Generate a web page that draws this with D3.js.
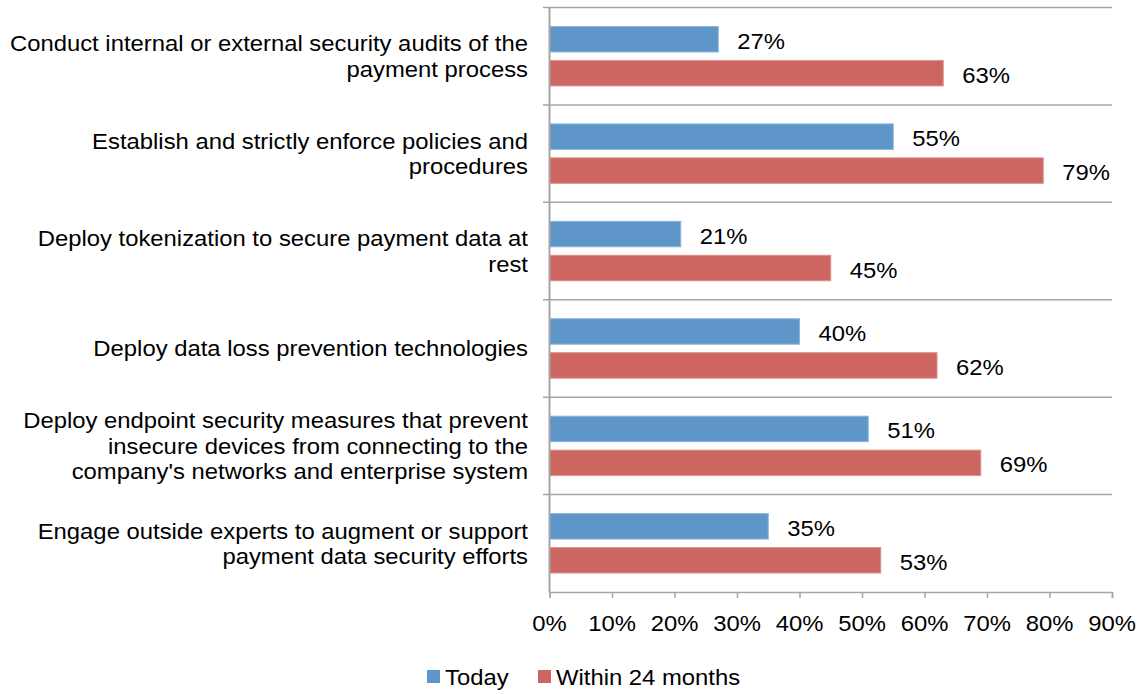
<!DOCTYPE html>
<html>
<head>
<meta charset="utf-8">
<script src="https://cdn.jsdelivr.net/npm/d3@7"></script>
<style>
  html, body { margin: 0; padding: 0; background: #fff; }
  svg { display: block; font-family: "Liberation Sans", Arial, sans-serif; }
</style>
</head>
<body>
<svg id="chart" width="1141" height="694"></svg>
<script>
// Survey measures (label lines) and share of respondents per time frame
const categories = [
  ["Conduct internal or external security audits of the", "payment process"],
  ["Establish and strictly enforce policies and", "procedures"],
  ["Deploy tokenization to secure payment data at", "rest"],
  ["Deploy data loss prevention technologies"],
  ["Deploy endpoint security measures that prevent", "insecure devices from connecting to the", "company's networks and enterprise system"],
  ["Engage outside experts to augment or support", "payment data security efforts"]
];
const seriesNames = ["Today", "Within 24 months"];
const today = [27, 55, 21, 40, 51, 35];
const within24 = [63, 79, 45, 62, 69, 53];
const tickValues = [0, 10, 20, 30, 40, 50, 60, 70, 80, 90];
const seriesValues = [today, within24];
const colors = ["#5f96c9", "#cd6661"];
const strokes = ["#8cb4dc", "#dc918d"];

// Text is set slightly wide: the face is stretched a little horizontally
const FONT = 22.5, SX = 1.06;
function wideText(sel, x, y, anchor, str) {
  return sel.append("text")
    .attr("transform", `translate(${x},${y}) scale(${SX},1)`)
    .attr("text-anchor", anchor)
    .attr("font-size", FONT)
    .attr("fill", "#000")
    .text(str);
}

const svg = d3.select("#chart");
const keys = categories.map((c, i) => i);

const x = d3.scaleLinear().domain([0, 90]).range([549.5, 1112]);
const y = d3.scaleBand().domain(keys).range([7.5, 592]);
const inner = d3.scaleBand().domain(seriesNames)
  .range([19, y.bandwidth() - 19]).paddingInner(0.25);

// Horizontal gridlines separating categories (with short outer ticks)
const gridYs = keys.map(k => y(k));
svg.append("g").selectAll("line").data(gridYs).join("line")
  .attr("x1", 543).attr("x2", x(90))
  .attr("y1", d => d).attr("y2", d => d)
  .attr("stroke", "#a6a6a6").attr("stroke-width", 1.5);

// Bars and value labels
const groups = svg.append("g").selectAll("g").data(keys).join("g")
  .attr("transform", k => `translate(0,${y(k)})`);

seriesNames.forEach((name, si) => {
  groups.append("rect")
    .attr("x", x(0))
    .attr("y", inner(name))
    .attr("width", k => x(seriesValues[si][k]) - x(0))
    .attr("height", inner.bandwidth())
    .attr("fill", colors[si])
    .attr("stroke", strokes[si]).attr("stroke-width", 1);
  groups.each(function(k) {
    const v = seriesValues[si][k];
    wideText(d3.select(this), x(v) + 19, inner(name) + inner.bandwidth() / 2 + 9.5, "start", v + "%");
  });
});

// Category labels (right-aligned, multi-line)
const lineH = 25.5;
const labelG = svg.append("g");
keys.forEach(k => {
  const lines = categories[k];
  const cy = y(k) + y.bandwidth() / 2;
  const start = cy - (lines.length - 1) * lineH / 2 + 8;
  lines.forEach((ln, i) => wideText(labelG, 528, start + i * lineH, "end", ln));
});

// Bottom axis
const y0 = y.range()[1];
const xAxis = d3.axisBottom(x).tickValues(tickValues).tickFormat("").tickSize(6);
const ax = svg.append("g").attr("transform", `translate(0,${y0})`).call(xAxis);
ax.select(".domain").attr("stroke", "#a6a6a6").attr("stroke-width", 1.5);
ax.selectAll(".tick line").attr("stroke", "#a6a6a6").attr("stroke-width", 1.5);
const tickG = svg.append("g");
tickValues.forEach(t => wideText(tickG, x(t), y0 + 39, "middle", t + "%"));

// Vertical axis line
svg.append("line")
  .attr("x1", x(0)).attr("x2", x(0))
  .attr("y1", y.range()[0]).attr("y2", y0)
  .attr("stroke", "#a6a6a6").attr("stroke-width", 2);

// Legend
const legendItems = [
  { name: "Today", x: 427, color: colors[0] },
  { name: "Within 24 months", x: 538, color: colors[1] }
];
const legendG = svg.append("g");
legendItems.forEach(d => {
  legendG.append("rect").attr("x", d.x).attr("y", 670).attr("width", 13).attr("height", 13)
    .attr("fill", d.color);
  wideText(legendG, d.x + 18, 685, "start", d.name);
});
</script>
</body>
</html>
